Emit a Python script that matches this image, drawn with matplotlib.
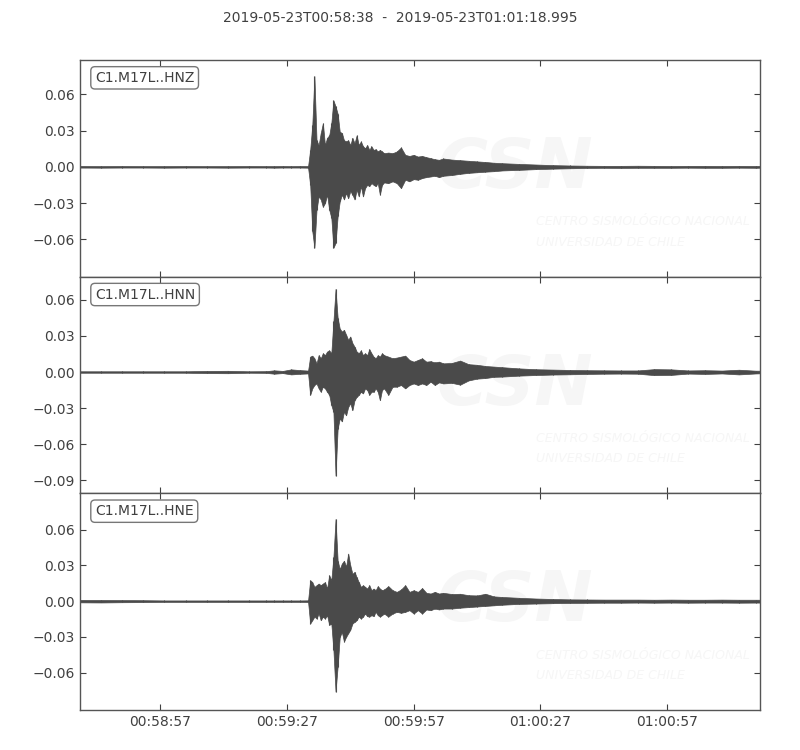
import numpy as np
import matplotlib
matplotlib.use('Agg')
import matplotlib.pyplot as plt
import matplotlib.dates as mdates
from datetime import datetime

# start of the record and end offset (seconds)
t_start = datetime(2019, 5, 23, 0, 58, 38)
t_end = 160.995
judul = '2019-05-23T00:58:38  -  2019-05-23T01:01:18.995'

# sample times (s after start) for the min/max envelope
t_sec = [0, 5, 10, 15, 20, 25, 30, 35, 40, 44, 46, 48, 50, 52, 54,
         54.5, 55, 55.5, 56, 56.5, 57, 57.5, 58, 58.5, 59, 59.5, 60,
         60.5, 61, 61.5, 62, 62.5, 63, 63.5, 64, 64.5, 65, 65.5, 66,
         66.5, 67, 67.5, 68, 68.5, 69, 69.5, 70, 70.5, 71, 71.5, 72,
         73, 74, 75, 76, 77, 78, 79, 80, 81, 82, 83, 84, 85, 86,
         88, 90, 92, 94, 96, 98, 100,
         104, 108, 112, 116, 120, 124, 128, 132, 136, 140, 144, 148, 152, 156, 160,
         160.99]

hnz_hi = [0.0007, 0.0006, 0.0007, 0.0006, 0.0006, 0.0007, 0.0006, 0.0006, 0.0007, 0.0006, 0.0006, 0.0007, 0.0006, 0.0007, 0.0006,
          0.014, 0.0347, 0.075, 0.022, 0.018, 0.028, 0.036, 0.018, 0.024, 0.026, 0.036, 0.055,
          0.050, 0.044, 0.029, 0.028, 0.022, 0.021, 0.022, 0.018, 0.024, 0.0195, 0.026, 0.018,
          0.021, 0.017, 0.0154, 0.018, 0.014, 0.017, 0.014, 0.0146, 0.0127, 0.014, 0.0127, 0.0113,
          0.0118, 0.0113, 0.0127, 0.016, 0.0099, 0.009, 0.0099, 0.0085, 0.009, 0.008, 0.0072, 0.0063, 0.0058, 0.0069,
          0.006, 0.0055, 0.005, 0.0045, 0.004, 0.0034, 0.003,
          0.0024, 0.0019, 0.0014, 0.0011, 0.0009, 0.0008, 0.0008, 0.0009, 0.0008, 0.0007, 0.0008, 0.0008, 0.0007, 0.0008, 0.0007,
          0.0007]
hnz_lo = [-0.0006, -0.0007, -0.0006, -0.0006, -0.0007, -0.0006, -0.0006, -0.0007, -0.0006, -0.0006, -0.0007, -0.0006, -0.0006, -0.0006, -0.0007,
          -0.0149, -0.0534, -0.067, -0.0355, -0.0245, -0.027, -0.033, -0.030, -0.023, -0.0355, -0.042, -0.067,
          -0.063, -0.041, -0.0286, -0.023, -0.027, -0.0217, -0.026, -0.020, -0.023, -0.027, -0.019, -0.0245,
          -0.016, -0.0245, -0.0176, -0.0149, -0.016, -0.0135, -0.0149, -0.016, -0.0135, -0.023, -0.0149, -0.0129,
          -0.0135, -0.012, -0.0135, -0.0176, -0.0107, -0.012, -0.0102, -0.0107, -0.0093, -0.0085, -0.008, -0.0074, -0.0085, -0.0074,
          -0.0068, -0.0058, -0.005, -0.0045, -0.004, -0.0036, -0.003,
          -0.0025, -0.0019, -0.0015, -0.0012, -0.0009, -0.0008, -0.0009, -0.0008, -0.0008, -0.0008, -0.0007, -0.0008, -0.0008, -0.0007, -0.0008,
          -0.0007]

hnn_hi = [0.0006, 0.0006, 0.0006, 0.0006, 0.0006, 0.0006, 0.0009, 0.0010, 0.0006, 0.0007, 0.0014, 0.0009, 0.0022, 0.0016, 0.0012,
          0.0128, 0.0136, 0.0114, 0.0072, 0.014, 0.0114, 0.0156, 0.014, 0.017, 0.018, 0.0156, 0.042,
          0.069, 0.045, 0.036, 0.0336, 0.035, 0.031, 0.0267, 0.0295, 0.024, 0.021, 0.017, 0.0156,
          0.018, 0.014, 0.0156, 0.014, 0.019, 0.0156, 0.0128, 0.0114, 0.014, 0.0128, 0.0156, 0.014,
          0.0128, 0.0114, 0.012, 0.0128, 0.0136, 0.010, 0.0086, 0.010, 0.0114, 0.0086, 0.009, 0.008, 0.0086, 0.0072,
          0.0075, 0.0095, 0.0065, 0.006, 0.005, 0.0045, 0.004,
          0.003, 0.0023, 0.002, 0.0017, 0.0015, 0.0014, 0.0013, 0.0013, 0.0024, 0.0022, 0.0013, 0.0015, 0.0012, 0.0019, 0.0011,
          0.0011]
hnn_lo = [-0.0006, -0.0006, -0.0006, -0.0006, -0.0006, -0.0006, -0.0009, -0.0010, -0.0006, -0.0007, -0.0014, -0.0009, -0.0020, -0.0015, -0.0012,
          -0.019, -0.0136, -0.0108, -0.0095, -0.0136, -0.0164, -0.0122, -0.0136, -0.0164, -0.019, -0.0275, -0.033,
          -0.086, -0.047, -0.0386, -0.041, -0.033, -0.036, -0.029, -0.026, -0.0317, -0.0234, -0.0206, -0.019,
          -0.0164, -0.0178, -0.0136, -0.015, -0.019, -0.0164, -0.0164, -0.0136, -0.0164, -0.0234, -0.015, -0.0136,
          -0.019, -0.0122, -0.0122, -0.0108, -0.0136, -0.0108, -0.0095, -0.0108, -0.0095, -0.0108, -0.008, -0.0108, -0.0086, -0.0095,
          -0.009, -0.0105, -0.007, -0.0055, -0.005, -0.004, -0.0038,
          -0.003, -0.0025, -0.0021, -0.0019, -0.0016, -0.0014, -0.0013, -0.0014, -0.0026, -0.0024, -0.0013, -0.0016, -0.0012, -0.002, -0.0012,
          -0.0011]

hne_hi = [0.001, 0.001, 0.0009, 0.0008, 0.0006, 0.0006, 0.0006, 0.0006, 0.0006, 0.0006, 0.0006, 0.0006, 0.0006, 0.0006, 0.0007,
          0.0176, 0.016, 0.012, 0.0134, 0.0148, 0.0134, 0.0148, 0.016, 0.0106, 0.0218, 0.0176, 0.037,
          0.069, 0.034, 0.027, 0.0316, 0.034, 0.029, 0.040, 0.030, 0.023, 0.0246, 0.020, 0.016,
          0.012, 0.0134, 0.012, 0.0106, 0.0134, 0.0092, 0.0106, 0.0092, 0.0126, 0.0106, 0.0092, 0.0098,
          0.0126, 0.0092, 0.0078, 0.0098, 0.0134, 0.0078, 0.0092, 0.0078, 0.011, 0.007, 0.0064, 0.0078, 0.0064, 0.007,
          0.006, 0.0062, 0.005, 0.0048, 0.0062, 0.004, 0.0035,
          0.0028, 0.0022, 0.0018, 0.0015, 0.0014, 0.0013, 0.0013, 0.0013, 0.0012, 0.0013, 0.0012, 0.0012, 0.0013, 0.0012, 0.0012,
          0.0012]
hne_lo = [-0.001, -0.0011, -0.0009, -0.0008, -0.0006, -0.0006, -0.0006, -0.0006, -0.0006, -0.0006, -0.0006, -0.0006, -0.0006, -0.0006, -0.0007,
          -0.0188, -0.016, -0.013, -0.0146, -0.0104, -0.016, -0.013, -0.0146, -0.0118, -0.020, -0.0188, -0.041,
          -0.076, -0.055, -0.030, -0.026, -0.034, -0.030, -0.027, -0.024, -0.0188, -0.0174, -0.016, -0.013,
          -0.0146, -0.013, -0.0104, -0.0126, -0.013, -0.0118, -0.0126, -0.009, -0.0118, -0.013, -0.0118, -0.0104,
          -0.013, -0.0104, -0.009, -0.0098, -0.009, -0.0076, -0.0104, -0.0076, -0.0104, -0.007, -0.0076, -0.0062, -0.007, -0.0062,
          -0.0062, -0.0055, -0.005, -0.0045, -0.004, -0.0035, -0.003,
          -0.0023, -0.002, -0.0017, -0.0015, -0.0014, -0.0013, -0.0013, -0.0012, -0.0013, -0.0012, -0.0013, -0.0012, -0.0012, -0.0013, -0.0012,
          -0.0012]

labels = ['C1.M17L..HNZ', 'C1.M17L..HNN', 'C1.M17L..HNE']
uppers = [hnz_hi, hnn_hi, hne_hi]
lowers = [hnz_lo, hnn_lo, hne_lo]
ylims = [(-0.0909, 0.0884), (-0.1008, 0.0792), (-0.0915, 0.0906)]
yticks = [[-0.06, -0.03, 0.0, 0.03, 0.06],
          [-0.09, -0.06, -0.03, 0.0, 0.03, 0.06],
          [-0.06, -0.03, 0.0, 0.03, 0.06]]
xtick_sec = [19, 49, 79, 109, 139]

warna = '#4a4a4a'
warnaTeks = '#404040'
warnaCap = '#f6f6f6'

t0 = mdates.date2num(t_start)
tn = t0 + np.array(t_sec) / 86400.0

fig, axes = plt.subplots(3, 1, sharex=True, figsize=(8, 7.5), dpi=100)
fig.subplots_adjust(left=0.1, right=0.95, top=0.92, bottom=0.0533, hspace=0)

for ax, lab, hi, lo, yl, yt in zip(axes, labels, uppers, lowers, ylims, yticks):
    # faint watermark
    ax.text(0.64, 0.5, 'CSN', transform=ax.transAxes, ha='center', va='center',
            fontsize=50, fontweight='bold', fontstyle='italic', color=warnaCap,
            zorder=0, clip_on=True)
    ax.text(0.67, 0.253, 'CENTRO SISMOLÓGICO NACIONAL', transform=ax.transAxes,
            ha='left', va='center', fontsize=9, fontstyle='italic', color=warnaCap,
            zorder=0, clip_on=True)
    ax.text(0.67, 0.16, 'UNIVERSIDAD DE CHILE', transform=ax.transAxes,
            ha='left', va='center', fontsize=9, fontstyle='italic', color=warnaCap,
            zorder=0, clip_on=True)

    ax.fill_between(tn, lo, hi, color=warna, lw=0.5, zorder=2)
    ax.vlines(tn, lo, hi, color=warna, lw=0.8, zorder=2)

    ax.set_ylim(*yl)
    ax.set_yticks(yt)
    ax.text(0.022, 0.95, lab, transform=ax.transAxes, ha='left', va='top',
            fontsize=10, color=warnaTeks, zorder=5,
            bbox=dict(boxstyle='round,pad=0.3', fc='w', ec='#777777', lw=1))
    ax.tick_params(direction='in', top=True, right=True, length=4, width=0.8,
                   colors=warnaTeks, labelsize=10)
    for s in ax.spines.values():
        s.set_color('#555555')
        s.set_linewidth(1)

axes[-1].set_xlim(t0, t0 + t_end / 86400.0)
axes[-1].set_xticks([t0 + s / 86400.0 for s in xtick_sec])
axes[-1].xaxis.set_major_formatter(mdates.DateFormatter('%H:%M:%S'))
for ax in axes[:-1]:
    ax.tick_params(labelbottom=False)

fig.suptitle(judul, fontsize=10, color=warnaTeks, y=0.985)

fig.savefig('out.png', dpi=100)
plt.close(fig)
